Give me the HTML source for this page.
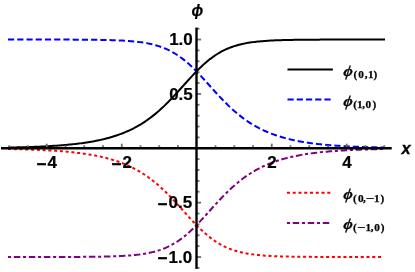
<!DOCTYPE html>
<html><head><meta charset="utf-8"><title>plot</title>
<style>
html,body{margin:0;padding:0;background:#fff;}
body{width:415px;height:272px;overflow:hidden;}
svg{display:block;will-change:transform;}
text{font-family:"Liberation Sans",sans-serif;font-weight:bold;font-size:17px;fill:#000;}
.tl{stroke:#000;stroke-width:0.2px;}
.mn{stroke:#000;stroke-width:0.4px;}
.phi{font-family:"Liberation Serif",serif;font-style:italic;font-size:16px;stroke:#000;stroke-width:0.32px;}
.sub{font-family:"Liberation Serif",serif;font-style:normal;font-weight:bold;font-size:11.2px;stroke:#000;stroke-width:0.25px;}
.it{font-style:italic;}
</style></head><body>
<svg width="415" height="272" viewBox="0 0 415 272">
<rect width="415" height="272" fill="#fff"/>
<g fill="none" stroke-width="2.0" stroke-linecap="butt" stroke-linejoin="round">
<path d="M8.00 147.54 L9.57 147.53 L11.14 147.50 L12.71 147.47 L14.28 147.43 L15.85 147.40 L17.43 147.36 L19.00 147.32 L20.57 147.28 L22.14 147.24 L23.71 147.19 L25.28 147.14 L26.85 147.10 L28.42 147.05 L29.99 146.99 L31.56 146.94 L33.13 146.88 L34.70 146.82 L36.28 146.76 L37.85 146.69 L39.42 146.63 L40.99 146.56 L42.56 146.48 L44.13 146.41 L45.70 146.33 L47.27 146.24 L48.84 146.16 L50.41 146.07 L51.98 145.97 L53.55 145.87 L55.13 145.77 L56.70 145.66 L58.27 145.55 L59.84 145.43 L61.41 145.31 L62.98 145.19 L64.55 145.05 L66.12 144.92 L67.69 144.77 L69.26 144.62 L70.83 144.47 L72.40 144.30 L73.98 144.13 L75.55 143.96 L77.12 143.77 L78.69 143.58 L80.26 143.38 L81.83 143.17 L83.40 142.95 L84.97 142.73 L86.54 142.49 L88.11 142.24 L89.68 141.99 L91.25 141.72 L92.83 141.44 L94.40 141.15 L95.97 140.84 L97.54 140.53 L99.11 140.20 L100.68 139.86 L102.25 139.50 L103.82 139.12 L105.39 138.74 L106.96 138.33 L108.53 137.91 L110.10 137.47 L111.67 137.01 L113.25 136.54 L114.82 136.04 L116.39 135.52 L117.96 134.99 L119.53 134.43 L121.10 133.85 L122.67 133.24 L124.24 132.61 L125.81 131.95 L127.38 131.27 L128.95 130.56 L130.53 129.83 L132.10 129.06 L133.67 128.27 L135.24 127.44 L136.81 126.59 L138.38 125.70 L139.95 124.78 L141.52 123.82 L143.09 122.83 L144.66 121.81 L146.23 120.75 L147.80 119.65 L149.38 118.51 L150.95 117.34 L152.52 116.13 L154.09 114.88 L155.66 113.60 L157.23 112.27 L158.80 110.91 L160.37 109.51 L161.94 108.08 L163.51 106.61 L165.08 105.10 L166.65 103.56 L168.23 101.99 L169.80 100.39 L171.37 98.76 L172.94 97.10 L174.51 95.42 L176.08 93.72 L177.65 92.00 L179.22 90.27 L180.79 88.53 L182.36 86.78 L183.93 85.02 L185.50 83.27 L187.08 81.53 L188.65 79.79 L190.22 78.07 L191.79 76.36 L193.36 74.68 L194.93 73.02 L196.50 71.39 L198.07 69.80 L199.64 68.25 L201.21 66.73 L202.78 65.26 L204.35 63.83 L205.93 62.45 L207.50 61.12 L209.07 59.84 L210.64 58.61 L212.21 57.44 L213.78 56.32 L215.35 55.25 L216.92 54.23 L218.49 53.26 L220.06 52.35 L221.63 51.48 L223.20 50.66 L224.77 49.89 L226.35 49.17 L227.92 48.49 L229.49 47.85 L231.06 47.25 L232.63 46.69 L234.20 46.17 L235.77 45.68 L237.34 45.23 L238.91 44.80 L240.48 44.41 L242.05 44.04 L243.62 43.70 L245.20 43.39 L246.77 43.09 L248.34 42.82 L249.91 42.57 L251.48 42.34 L253.05 42.12 L254.62 41.92 L256.19 41.73 L257.76 41.56 L259.33 41.41 L260.90 41.26 L262.48 41.13 L264.05 41.00 L265.62 40.89 L267.19 40.78 L268.76 40.68 L270.33 40.59 L271.90 40.51 L273.47 40.44 L275.04 40.37 L276.61 40.30 L278.18 40.24 L279.75 40.19 L281.33 40.13 L282.90 40.09 L284.47 40.05 L286.04 40.01 L287.61 39.97 L289.18 39.94 L290.75 39.90 L292.32 39.88 L293.89 39.85 L295.46 39.83 L297.03 39.80 L298.60 39.78 L300.17 39.77 L301.75 39.75 L303.32 39.73 L304.89 39.72 L306.46 39.70 L308.03 39.69 L309.60 39.68 L311.17 39.67 L312.74 39.66 L314.31 39.65 L315.88 39.64 L317.45 39.64 L319.03 39.63 L320.60 39.62 L322.17 39.62 L323.74 39.61 L325.31 39.61 L326.88 39.60 L328.45 39.60 L330.02 39.59 L331.59 39.59 L333.16 39.59 L334.73 39.58 L336.30 39.58 L337.87 39.58 L339.45 39.58 L341.02 39.57 L342.59 39.57 L344.16 39.57 L345.73 39.57 L347.30 39.57 L348.87 39.57 L350.44 39.56 L352.01 39.56 L353.58 39.56 L355.15 39.56 L356.72 39.56 L358.30 39.56 L359.87 39.56 L361.44 39.56 L363.01 39.56 L364.58 39.56 L366.15 39.56 L367.72 39.56 L369.29 39.56 L370.86 39.55 L372.43 39.55 L374.00 39.55 L375.57 39.55 L377.15 39.55 L378.72 39.55 L380.29 39.55 L381.86 39.55 L383.43 39.55 L385.00 39.55" stroke="#000"/>
<path d="M8.00 39.55 L9.57 39.55 L11.14 39.55 L12.71 39.55 L14.28 39.55 L15.85 39.55 L17.43 39.55 L19.00 39.55 L20.57 39.55 L22.14 39.55 L23.71 39.56 L25.28 39.56 L26.85 39.56 L28.42 39.56 L29.99 39.56 L31.56 39.56 L33.13 39.56 L34.70 39.56 L36.28 39.56 L37.85 39.56 L39.42 39.56 L40.99 39.56 L42.56 39.56 L44.13 39.57 L45.70 39.57 L47.27 39.57 L48.84 39.57 L50.41 39.57 L51.98 39.57 L53.55 39.58 L55.13 39.58 L56.70 39.58 L58.27 39.58 L59.84 39.59 L61.41 39.59 L62.98 39.59 L64.55 39.60 L66.12 39.60 L67.69 39.61 L69.26 39.61 L70.83 39.62 L72.40 39.62 L73.98 39.63 L75.55 39.64 L77.12 39.64 L78.69 39.65 L80.26 39.66 L81.83 39.67 L83.40 39.68 L84.97 39.69 L86.54 39.70 L88.11 39.72 L89.68 39.73 L91.25 39.75 L92.83 39.77 L94.40 39.78 L95.97 39.80 L97.54 39.83 L99.11 39.85 L100.68 39.88 L102.25 39.90 L103.82 39.94 L105.39 39.97 L106.96 40.01 L108.53 40.05 L110.10 40.09 L111.67 40.13 L113.25 40.19 L114.82 40.24 L116.39 40.30 L117.96 40.37 L119.53 40.44 L121.10 40.51 L122.67 40.59 L124.24 40.68 L125.81 40.78 L127.38 40.89 L128.95 41.00 L130.53 41.13 L132.10 41.26 L133.67 41.41 L135.24 41.56 L136.81 41.73 L138.38 41.92 L139.95 42.12 L141.52 42.34 L143.09 42.57 L144.66 42.82 L146.23 43.09 L147.80 43.39 L149.38 43.70 L150.95 44.04 L152.52 44.41 L154.09 44.80 L155.66 45.23 L157.23 45.68 L158.80 46.17 L160.37 46.69 L161.94 47.25 L163.51 47.85 L165.08 48.49 L166.65 49.17 L168.23 49.89 L169.80 50.66 L171.37 51.48 L172.94 52.35 L174.51 53.26 L176.08 54.23 L177.65 55.25 L179.22 56.32 L180.79 57.44 L182.36 58.61 L183.93 59.84 L185.50 61.12 L187.08 62.45 L188.65 63.83 L190.22 65.26 L191.79 66.73 L193.36 68.25 L194.93 69.80 L196.50 71.39 L198.07 73.02 L199.64 74.68 L201.21 76.36 L202.78 78.07 L204.35 79.79 L205.93 81.53 L207.50 83.27 L209.07 85.02 L210.64 86.78 L212.21 88.53 L213.78 90.27 L215.35 92.00 L216.92 93.72 L218.49 95.42 L220.06 97.10 L221.63 98.76 L223.20 100.39 L224.77 101.99 L226.35 103.56 L227.92 105.10 L229.49 106.61 L231.06 108.08 L232.63 109.51 L234.20 110.91 L235.77 112.27 L237.34 113.60 L238.91 114.88 L240.48 116.13 L242.05 117.34 L243.62 118.51 L245.20 119.65 L246.77 120.75 L248.34 121.81 L249.91 122.83 L251.48 123.82 L253.05 124.78 L254.62 125.70 L256.19 126.59 L257.76 127.44 L259.33 128.27 L260.90 129.06 L262.48 129.83 L264.05 130.56 L265.62 131.27 L267.19 131.95 L268.76 132.61 L270.33 133.24 L271.90 133.85 L273.47 134.43 L275.04 134.99 L276.61 135.52 L278.18 136.04 L279.75 136.54 L281.33 137.01 L282.90 137.47 L284.47 137.91 L286.04 138.33 L287.61 138.74 L289.18 139.12 L290.75 139.50 L292.32 139.86 L293.89 140.20 L295.46 140.53 L297.03 140.84 L298.60 141.15 L300.17 141.44 L301.75 141.72 L303.32 141.99 L304.89 142.24 L306.46 142.49 L308.03 142.73 L309.60 142.95 L311.17 143.17 L312.74 143.38 L314.31 143.58 L315.88 143.77 L317.45 143.96 L319.03 144.13 L320.60 144.30 L322.17 144.47 L323.74 144.62 L325.31 144.77 L326.88 144.92 L328.45 145.05 L330.02 145.19 L331.59 145.31 L333.16 145.43 L334.73 145.55 L336.30 145.66 L337.87 145.77 L339.45 145.87 L341.02 145.97 L342.59 146.07 L344.16 146.16 L345.73 146.24 L347.30 146.33 L348.87 146.41 L350.44 146.48 L352.01 146.56 L353.58 146.63 L355.15 146.69 L356.72 146.76 L358.30 146.82 L359.87 146.88 L361.44 146.94 L363.01 146.99 L364.58 147.05 L366.15 147.10 L367.72 147.14 L369.29 147.19 L370.86 147.24 L372.43 147.28 L374.00 147.32 L375.57 147.36 L377.15 147.40 L378.72 147.43 L380.29 147.47 L381.86 147.50 L383.43 147.53 L385.00 147.54" stroke="#00f" stroke-dasharray="6.2 3.03"/>
<path d="M8.00 149.01 L9.56 149.02 L11.12 149.05 L12.67 149.08 L14.23 149.12 L15.79 149.15 L17.35 149.19 L18.91 149.23 L20.47 149.27 L22.03 149.31 L23.58 149.36 L25.14 149.40 L26.70 149.45 L28.26 149.50 L29.82 149.55 L31.38 149.61 L32.93 149.66 L34.49 149.72 L36.05 149.78 L37.61 149.85 L39.17 149.91 L40.72 149.98 L42.28 150.05 L43.84 150.13 L45.40 150.21 L46.96 150.29 L48.52 150.38 L50.08 150.47 L51.63 150.56 L53.19 150.65 L54.75 150.76 L56.31 150.86 L57.87 150.97 L59.43 151.08 L60.98 151.20 L62.54 151.33 L64.10 151.46 L65.66 151.59 L67.22 151.73 L68.78 151.88 L70.33 152.03 L71.89 152.19 L73.45 152.36 L75.01 152.53 L76.57 152.71 L78.13 152.90 L79.68 153.09 L81.24 153.30 L82.80 153.51 L84.36 153.73 L85.92 153.96 L87.47 154.20 L89.03 154.46 L90.59 154.72 L92.15 154.99 L93.71 155.27 L95.27 155.57 L96.83 155.88 L98.38 156.20 L99.94 156.53 L101.50 156.88 L103.06 157.24 L104.62 157.62 L106.18 158.01 L107.73 158.42 L109.29 158.85 L110.85 159.29 L112.41 159.76 L113.97 160.24 L115.53 160.74 L117.08 161.26 L118.64 161.80 L120.20 162.37 L121.76 162.96 L123.32 163.57 L124.88 164.20 L126.43 164.86 L127.99 165.55 L129.55 166.26 L131.11 167.00 L132.67 167.77 L134.22 168.57 L135.78 169.40 L137.34 170.26 L138.90 171.15 L140.46 172.08 L142.02 173.04 L143.57 174.03 L145.13 175.06 L146.69 176.12 L148.25 177.22 L149.81 178.36 L151.37 179.53 L152.93 180.74 L154.48 181.99 L156.04 183.27 L157.60 184.59 L159.16 185.95 L160.72 187.35 L162.28 188.78 L163.83 190.25 L165.39 191.75 L166.95 193.28 L168.51 194.85 L170.07 196.44 L171.62 198.06 L173.18 199.71 L174.74 201.38 L176.30 203.07 L177.86 204.78 L179.42 206.50 L180.98 208.23 L182.53 209.96 L184.09 211.70 L185.65 213.44 L187.21 215.17 L188.77 216.89 L190.32 218.60 L191.88 220.29 L193.44 221.96 L195.00 223.60 L196.56 225.21 L198.12 226.79 L199.68 228.34 L201.23 229.84 L202.79 231.30 L204.35 232.71 L205.91 234.08 L207.47 235.40 L209.02 236.67 L210.58 237.89 L212.14 239.06 L213.70 240.18 L215.26 241.24 L216.82 242.26 L218.38 243.22 L219.93 244.13 L221.49 244.99 L223.05 245.81 L224.61 246.58 L226.17 247.30 L227.73 247.98 L229.28 248.62 L230.84 249.22 L232.40 249.78 L233.96 250.30 L235.52 250.79 L237.07 251.25 L238.63 251.67 L240.19 252.07 L241.75 252.44 L243.31 252.78 L244.87 253.10 L246.43 253.40 L247.98 253.67 L249.54 253.92 L251.10 254.16 L252.66 254.38 L254.22 254.58 L255.78 254.77 L257.33 254.94 L258.89 255.10 L260.45 255.25 L262.01 255.38 L263.57 255.51 L265.12 255.63 L266.68 255.74 L268.24 255.83 L269.80 255.93 L271.36 256.01 L272.92 256.09 L274.47 256.16 L276.03 256.23 L277.59 256.29 L279.15 256.34 L280.71 256.40 L282.27 256.44 L283.82 256.49 L285.38 256.53 L286.94 256.57 L288.50 256.60 L290.06 256.63 L291.62 256.66 L293.17 256.69 L294.73 256.71 L296.29 256.74 L297.85 256.76 L299.41 256.78 L300.97 256.79 L302.52 256.81 L304.08 256.83 L305.64 256.84 L307.20 256.85 L308.76 256.86 L310.32 256.87 L311.88 256.88 L313.43 256.89 L314.99 256.90 L316.55 256.91 L318.11 256.92 L319.67 256.92 L321.22 256.93 L322.78 256.94 L324.34 256.94 L325.90 256.95 L327.46 256.95 L329.02 256.95 L330.58 256.96 L332.13 256.96 L333.69 256.96 L335.25 256.97 L336.81 256.97 L338.37 256.97 L339.92 256.97 L341.48 256.98 L343.04 256.98 L344.60 256.98 L346.16 256.98 L347.72 256.98 L349.27 256.98 L350.83 256.99 L352.39 256.99 L353.95 256.99 L355.51 256.99 L357.07 256.99 L358.62 256.99 L360.18 256.99 L361.74 256.99 L363.30 256.99 L364.86 256.99 L366.42 256.99 L367.97 256.99 L369.53 256.99 L371.09 257.00 L372.65 257.00 L374.21 257.00 L375.77 257.00 L377.32 257.00 L378.88 257.00 L380.44 257.00 L382.00 257.00" stroke="#f00" stroke-dasharray="3.05 2.717"/>
<path d="M8.00 257.00 L9.57 257.00 L11.14 257.00 L12.71 257.00 L14.28 257.00 L15.85 257.00 L17.43 257.00 L19.00 257.00 L20.57 257.00 L22.14 257.00 L23.71 256.99 L25.28 256.99 L26.85 256.99 L28.42 256.99 L29.99 256.99 L31.56 256.99 L33.13 256.99 L34.70 256.99 L36.28 256.99 L37.85 256.99 L39.42 256.99 L40.99 256.99 L42.56 256.99 L44.13 256.98 L45.70 256.98 L47.27 256.98 L48.84 256.98 L50.41 256.98 L51.98 256.98 L53.55 256.97 L55.13 256.97 L56.70 256.97 L58.27 256.97 L59.84 256.96 L61.41 256.96 L62.98 256.96 L64.55 256.95 L66.12 256.95 L67.69 256.94 L69.26 256.94 L70.83 256.93 L72.40 256.93 L73.98 256.92 L75.55 256.91 L77.12 256.91 L78.69 256.90 L80.26 256.89 L81.83 256.88 L83.40 256.87 L84.97 256.86 L86.54 256.85 L88.11 256.83 L89.68 256.82 L91.25 256.80 L92.83 256.78 L94.40 256.77 L95.97 256.75 L97.54 256.72 L99.11 256.70 L100.68 256.67 L102.25 256.65 L103.82 256.61 L105.39 256.58 L106.96 256.54 L108.53 256.50 L110.10 256.46 L111.67 256.42 L113.25 256.36 L114.82 256.31 L116.39 256.25 L117.96 256.18 L119.53 256.11 L121.10 256.04 L122.67 255.96 L124.24 255.87 L125.81 255.77 L127.38 255.66 L128.95 255.55 L130.53 255.42 L132.10 255.29 L133.67 255.14 L135.24 254.99 L136.81 254.82 L138.38 254.63 L139.95 254.43 L141.52 254.21 L143.09 253.98 L144.66 253.73 L146.23 253.46 L147.80 253.16 L149.38 252.85 L150.95 252.51 L152.52 252.14 L154.09 251.75 L155.66 251.32 L157.23 250.87 L158.80 250.38 L160.37 249.86 L161.94 249.30 L163.51 248.70 L165.08 248.06 L166.65 247.38 L168.23 246.66 L169.80 245.89 L171.37 245.07 L172.94 244.20 L174.51 243.29 L176.08 242.32 L177.65 241.30 L179.22 240.23 L180.79 239.11 L182.36 237.94 L183.93 236.71 L185.50 235.43 L187.08 234.10 L188.65 232.72 L190.22 231.29 L191.79 229.82 L193.36 228.30 L194.93 226.75 L196.50 225.16 L198.07 223.53 L199.64 221.87 L201.21 220.19 L202.78 218.48 L204.35 216.76 L205.93 215.02 L207.50 213.28 L209.07 211.53 L210.64 209.77 L212.21 208.02 L213.78 206.28 L215.35 204.55 L216.92 202.83 L218.49 201.13 L220.06 199.45 L221.63 197.79 L223.20 196.16 L224.77 194.56 L226.35 192.99 L227.92 191.45 L229.49 189.94 L231.06 188.47 L232.63 187.04 L234.20 185.64 L235.77 184.28 L237.34 182.95 L238.91 181.67 L240.48 180.42 L242.05 179.21 L243.62 178.04 L245.20 176.90 L246.77 175.80 L248.34 174.74 L249.91 173.72 L251.48 172.73 L253.05 171.77 L254.62 170.85 L256.19 169.96 L257.76 169.11 L259.33 168.28 L260.90 167.49 L262.48 166.72 L264.05 165.99 L265.62 165.28 L267.19 164.60 L268.76 163.94 L270.33 163.31 L271.90 162.70 L273.47 162.12 L275.04 161.56 L276.61 161.03 L278.18 160.51 L279.75 160.01 L281.33 159.54 L282.90 159.08 L284.47 158.64 L286.04 158.22 L287.61 157.81 L289.18 157.43 L290.75 157.05 L292.32 156.69 L293.89 156.35 L295.46 156.02 L297.03 155.71 L298.60 155.40 L300.17 155.11 L301.75 154.83 L303.32 154.56 L304.89 154.31 L306.46 154.06 L308.03 153.82 L309.60 153.60 L311.17 153.38 L312.74 153.17 L314.31 152.97 L315.88 152.78 L317.45 152.59 L319.03 152.42 L320.60 152.25 L322.17 152.08 L323.74 151.93 L325.31 151.78 L326.88 151.63 L328.45 151.50 L330.02 151.36 L331.59 151.24 L333.16 151.12 L334.73 151.00 L336.30 150.89 L337.87 150.78 L339.45 150.68 L341.02 150.58 L342.59 150.48 L344.16 150.39 L345.73 150.31 L347.30 150.22 L348.87 150.14 L350.44 150.07 L352.01 149.99 L353.58 149.92 L355.15 149.86 L356.72 149.79 L358.30 149.73 L359.87 149.67 L361.44 149.61 L363.01 149.56 L364.58 149.50 L366.15 149.45 L367.72 149.41 L369.29 149.36 L370.86 149.31 L372.43 149.27 L374.00 149.23 L375.57 149.19 L377.15 149.15 L378.72 149.12 L380.29 149.08 L381.86 149.05 L383.43 149.02 L385.00 149.01" stroke="#800080" stroke-dasharray="3.1 2.7 6.5 2.72"/>
</g>
<g stroke="#6e6e6e" stroke-width="1.8">
<line x1="9.25" y1="148.28" x2="9.25" y2="145.28"/>
<line x1="28.00" y1="148.28" x2="28.00" y2="145.28"/>
<line x1="46.75" y1="148.28" x2="46.75" y2="143.68"/>
<line x1="65.50" y1="148.28" x2="65.50" y2="145.28"/>
<line x1="84.25" y1="148.28" x2="84.25" y2="145.28"/>
<line x1="103.00" y1="148.28" x2="103.00" y2="145.28"/>
<line x1="121.75" y1="148.28" x2="121.75" y2="143.68"/>
<line x1="140.50" y1="148.28" x2="140.50" y2="145.28"/>
<line x1="159.25" y1="148.28" x2="159.25" y2="145.28"/>
<line x1="178.00" y1="148.28" x2="178.00" y2="145.28"/>
<line x1="215.50" y1="148.28" x2="215.50" y2="145.28"/>
<line x1="234.25" y1="148.28" x2="234.25" y2="145.28"/>
<line x1="253.00" y1="148.28" x2="253.00" y2="145.28"/>
<line x1="271.75" y1="148.28" x2="271.75" y2="143.68"/>
<line x1="290.50" y1="148.28" x2="290.50" y2="145.28"/>
<line x1="309.25" y1="148.28" x2="309.25" y2="145.28"/>
<line x1="328.00" y1="148.28" x2="328.00" y2="145.28"/>
<line x1="346.75" y1="148.28" x2="346.75" y2="143.68"/>
<line x1="365.50" y1="148.28" x2="365.50" y2="145.28"/>
<line x1="384.25" y1="148.28" x2="384.25" y2="145.28"/>
<line x1="196.50" y1="267.87" x2="199.50" y2="267.87"/>
<line x1="196.50" y1="257.00" x2="201.10" y2="257.00"/>
<line x1="196.50" y1="246.13" x2="199.50" y2="246.13"/>
<line x1="196.50" y1="235.25" x2="199.50" y2="235.25"/>
<line x1="196.50" y1="224.38" x2="199.50" y2="224.38"/>
<line x1="196.50" y1="213.51" x2="199.50" y2="213.51"/>
<line x1="196.50" y1="202.64" x2="201.10" y2="202.64"/>
<line x1="196.50" y1="191.77" x2="199.50" y2="191.77"/>
<line x1="196.50" y1="180.89" x2="199.50" y2="180.89"/>
<line x1="196.50" y1="170.02" x2="199.50" y2="170.02"/>
<line x1="196.50" y1="159.15" x2="199.50" y2="159.15"/>
<line x1="196.50" y1="137.40" x2="199.50" y2="137.40"/>
<line x1="196.50" y1="126.53" x2="199.50" y2="126.53"/>
<line x1="196.50" y1="115.66" x2="199.50" y2="115.66"/>
<line x1="196.50" y1="104.78" x2="199.50" y2="104.78"/>
<line x1="196.50" y1="93.91" x2="201.10" y2="93.91"/>
<line x1="196.50" y1="83.04" x2="199.50" y2="83.04"/>
<line x1="196.50" y1="72.17" x2="199.50" y2="72.17"/>
<line x1="196.50" y1="61.30" x2="199.50" y2="61.30"/>
<line x1="196.50" y1="50.42" x2="199.50" y2="50.42"/>
<line x1="196.50" y1="39.55" x2="201.10" y2="39.55"/>
<line x1="196.50" y1="28.68" x2="199.50" y2="28.68"/>
</g>
<g stroke="#000" stroke-width="2.4">
<line x1="1" y1="148.275" x2="391.7" y2="148.275"/>
<line x1="196.5" y1="27.6" x2="196.5" y2="268.9"/>
</g>
<text class="tl" x="47.60" y="168.00" text-anchor="middle"><tspan class="mn" dy="1.6" dx="-0.7">−</tspan><tspan dy="-1.6" dx="0.7">4</tspan></text>
<text class="tl" x="122.60" y="168.00" text-anchor="middle"><tspan class="mn" dy="1.6" dx="-0.7">−</tspan><tspan dy="-1.6" dx="0.7">2</tspan></text>
<text class="tl" x="272.10" y="168.00" text-anchor="middle">2</text>
<text class="tl" x="347.10" y="168.00" text-anchor="middle">4</text>
<text class="tl" x="192.80" y="45.15" text-anchor="end">1.0</text>
<text class="tl" x="192.80" y="99.51" text-anchor="end">0.5</text>
<text class="tl" x="192.80" y="208.24" text-anchor="end"><tspan class="mn" dy="1.6" dx="-0.7">−</tspan><tspan dy="-1.6" dx="0.7">0.5</tspan></text>
<text class="tl" x="192.80" y="262.60" text-anchor="end"><tspan class="mn" dy="1.6" dx="-0.7">−</tspan><tspan dy="-1.6" dx="0.7">1.0</tspan></text>
<text transform="translate(401.6 153.8) scale(1 1.03)" class="it" style="font-size:16.5px;stroke:#000;stroke-width:0.3px">x</text>
<text transform="translate(191.6 15.9) scale(1 1.12)" class="it" style="font-size:15.5px;stroke:#000;stroke-width:0.2px">ϕ</text>
<line x1="287.5" y1="69.45" x2="332.9" y2="69.45" stroke="#000" stroke-width="2.0"/>
<text transform="translate(342.9 75.80) skewX(-7.5) scale(1 0.95)" class="phi">ϕ</text>
<text x="353.6 358.2 364.8 368.1 373.5" y="78.20" class="sub">(0,1)</text>
<line x1="287.5" y1="99.45" x2="332.9" y2="99.45" stroke="#00f" stroke-width="2.0" stroke-dasharray="6.2 3.03"/>
<text transform="translate(342.9 105.60) skewX(-7.5) scale(1 0.95)" class="phi">ϕ</text>
<text x="353.25 357.0 362.2 365.6 372.5" y="108.00" class="sub">(1,0)</text>
<line x1="286.9" y1="192.85" x2="332.9" y2="192.85" stroke="#f00" stroke-width="2.0" stroke-dasharray="3.05 2.717"/>
<text transform="translate(342.9 199.30) skewX(-7.5) scale(1 0.95)" class="phi">ϕ</text>
<text x="353.0 357.9 363.0" y="201.70" class="sub">(0,</text>
<text x="365.75" y="202.10" class="sub" textLength="8.49" lengthAdjust="spacingAndGlyphs">−</text>
<text x="374.1 380.6" y="201.70" class="sub">1)</text>
<line x1="286.9" y1="222.90" x2="331.9" y2="222.90" stroke="#800080" stroke-width="2.0" stroke-dasharray="3.1 2.7 6.5 2.72"/>
<text transform="translate(342.9 228.50) skewX(-7.5) scale(1 0.95)" class="phi">ϕ</text>
<text x="353.0" y="230.90" class="sub">(</text>
<text x="357.05" y="231.30" class="sub" textLength="8.49" lengthAdjust="spacingAndGlyphs">−</text>
<text x="365.4 370.7 374.3 380.8" y="230.90" class="sub">1,0)</text>
</svg>
</body></html>
